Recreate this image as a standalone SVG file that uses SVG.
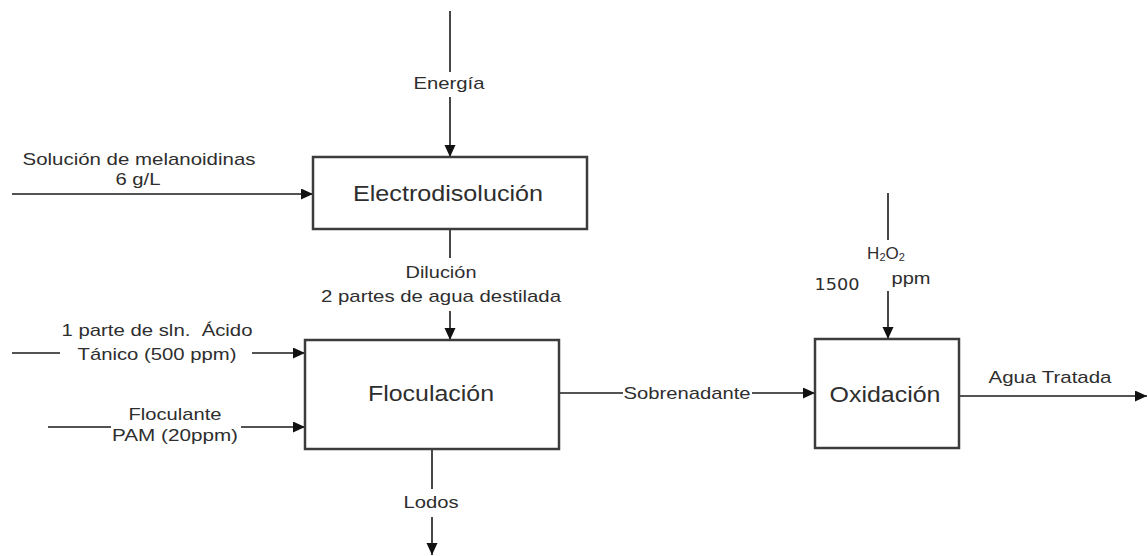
<svg xmlns="http://www.w3.org/2000/svg" width="1148" height="556" viewBox="0 0 1148 556">
<defs>
<marker id="arr" markerUnits="userSpaceOnUse" markerWidth="13" markerHeight="12" refX="12" refY="5.5" orient="auto">
<path d="M0,0 L12,5.5 L0,11 Z" fill="#111"/>
</marker>
<style>
.box{fill:#fff;stroke:#3c3c3c;stroke-width:2.5}
.ln{stroke:#1a1a1a;stroke-width:1.6;fill:none}
.arr{marker-end:url(#arr)}
text{font-family:"Liberation Sans",Arial,sans-serif;fill:#2e2e2e;text-anchor:middle}
.lbl{font-size:17px}
.big{font-size:22px}
.pre{white-space:pre}
</style>
</defs>
<rect width="1148" height="556" fill="#fff"/>
<g id="connectors">
<line class="ln" x1="450" y1="11" x2="450" y2="72"/>
<line class="ln arr" x1="450" y1="97" x2="450" y2="157"/>
<line class="ln arr" x1="12" y1="194" x2="313" y2="194"/>
<line class="ln" x1="450" y1="229" x2="450" y2="258"/>
<line class="ln arr" x1="450" y1="311" x2="450" y2="340"/>
<line class="ln" x1="12" y1="353" x2="60" y2="353"/>
<line class="ln arr" x1="252" y1="353" x2="305" y2="353"/>
<line class="ln" x1="48" y1="427" x2="111" y2="427"/>
<line class="ln arr" x1="241" y1="427" x2="305" y2="427"/>
<line class="ln" x1="432" y1="449" x2="432" y2="489"/>
<line class="ln arr" x1="432" y1="517" x2="432" y2="555"/>
<line class="ln" x1="559" y1="393" x2="623" y2="393"/>
<line class="ln arr" x1="752" y1="393" x2="815" y2="393"/>
<line class="ln" x1="888" y1="193" x2="888" y2="240"/>
<line class="ln arr" x1="888" y1="291" x2="888" y2="339"/>
<line class="ln arr" x1="959" y1="396" x2="1147" y2="396"/>
<text class="lbl" x="449" y="89" textLength="71" lengthAdjust="spacingAndGlyphs">Energía</text>
<text class="lbl" x="139" y="165" textLength="233" lengthAdjust="spacingAndGlyphs">Solución de melanoidinas</text>
<text class="lbl" x="138" y="185" textLength="45" lengthAdjust="spacingAndGlyphs">6 g/L</text>
<text class="lbl" x="441" y="278" textLength="71" lengthAdjust="spacingAndGlyphs">Dilución</text>
<text class="lbl" x="441" y="302" textLength="240" lengthAdjust="spacingAndGlyphs">2 partes de agua destilada</text>
<text class="lbl pre" x="157" y="336" textLength="191" lengthAdjust="spacingAndGlyphs">1 parte de sln.  Ácido</text>
<text class="lbl" x="157" y="360" textLength="159" lengthAdjust="spacingAndGlyphs">Tánico (500 ppm)</text>
<text class="lbl" x="175" y="420" textLength="93" lengthAdjust="spacingAndGlyphs">Floculante</text>
<text class="lbl" x="175" y="441" textLength="126" lengthAdjust="spacingAndGlyphs">PAM (20ppm)</text>
<text class="lbl" x="431" y="508" textLength="55" lengthAdjust="spacingAndGlyphs">Lodos</text>
<text class="lbl" x="687" y="399" textLength="127" lengthAdjust="spacingAndGlyphs">Sobrenadante</text>
<text class="lbl" x="886" y="259">H<tspan font-size="11" dy="2">2</tspan><tspan dy="-2">O</tspan><tspan font-size="11" dy="2">2</tspan></text>
<text class="lbl" x="911" y="284" textLength="39" lengthAdjust="spacingAndGlyphs">ppm</text>
<text x="837" y="290" style="font-family:'DejaVu Sans',sans-serif;font-size:15px" textLength="45" lengthAdjust="spacingAndGlyphs">1500</text>
<text class="lbl" x="1050" y="383" textLength="123" lengthAdjust="spacingAndGlyphs">Agua Tratada</text>
</g>
<g id="electrodisolucion">
<rect class="box" x="313" y="157" width="274" height="72"/>
<text class="big" x="448" y="201" textLength="190" lengthAdjust="spacingAndGlyphs">Electrodisolución</text>
</g>
<g id="floculacion">
<rect class="box" x="305" y="340" width="254" height="109"/>
<text class="big" x="431" y="401" textLength="126" lengthAdjust="spacingAndGlyphs">Floculación</text>
</g>
<g id="oxidacion">
<rect class="box" x="815" y="339" width="144" height="109"/>
<text class="big" x="885" y="402" textLength="111" lengthAdjust="spacingAndGlyphs">Oxidación</text>
</g>
</svg>
